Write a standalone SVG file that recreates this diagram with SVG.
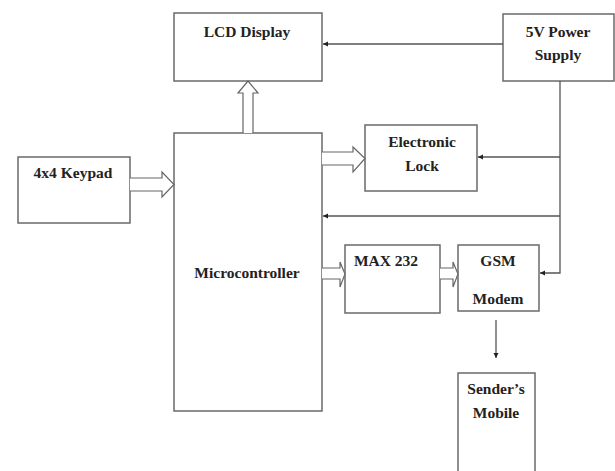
<svg xmlns="http://www.w3.org/2000/svg" width="615" height="471" viewBox="0 0 615 471">
<style>
.box{fill:#fff;stroke:#6a6a6a;stroke-width:1.5}
.t{font-family:"Liberation Serif",serif;font-weight:bold;font-size:15.5px;fill:#222;text-anchor:middle}
.ln{fill:none;stroke:#555;stroke-width:1.3}
.ha{fill:#fff;stroke:#666;stroke-width:1.2}
</style>
<defs>
<marker id="ah" markerWidth="6" markerHeight="6" refX="5" refY="3" orient="auto" markerUnits="userSpaceOnUse">
<path d="M0,0.5 L5,3 L0,5.5 Z" fill="#222"/>
</marker>
</defs>
<rect width="615" height="471" fill="#fff"/>
<g id="lcd"><rect class="box" x="174" y="13" width="148" height="68"/><text class="t" x="247" y="37">LCD Display</text></g>
<g id="power"><rect class="box" x="503" y="14" width="111" height="67"/><text class="t" x="558" y="37">5V Power</text><text class="t" x="558" y="60">Supply</text></g>
<g id="micro"><rect class="box" x="174" y="133" width="148" height="278"/><text class="t" x="247" y="278">Microcontroller</text></g>
<g id="keypad"><rect class="box" x="18" y="157" width="112" height="66"/><text class="t" x="73" y="178">4x4 Keypad</text></g>
<g id="lock"><rect class="box" x="365" y="125" width="112" height="66"/><text class="t" x="422" y="147">Electronic</text><text class="t" x="422" y="171">Lock</text></g>
<g id="max232"><rect class="box" x="345" y="245" width="95" height="68"/><text class="t" x="386" y="266">MAX 232</text></g>
<g id="gsm"><rect class="box" x="458" y="245" width="81" height="66"/><text class="t" x="498" y="266">GSM</text><text class="t" x="498" y="304">Modem</text></g>
<g id="mobile"><rect class="box" x="458" y="373" width="77" height="110"/><text class="t" x="496" y="394">Sender’s</text><text class="t" x="496" y="418">Mobile</text></g>
<g id="connectors">
<path class="ln" d="M503,44 H323" marker-end="url(#ah)"/>
<path class="ln" d="M560,81 V273 H540" marker-end="url(#ah)"/>
<path class="ln" d="M560,157 H478" marker-end="url(#ah)"/>
<path class="ln" d="M560,216 H323" stroke-width="2" marker-end="url(#ah)"/>
<path class="ln" d="M496,320 V358" marker-end="url(#ah)"/>
<path class="ha" d="M243,133 V93 H238 L248,81 L258,93 H253 V133"/>
<path class="ha" d="M322,152 H353 V147 L365,158.5 L353,172 V165 H322"/>
<path class="ha" d="M130,178 H162 V172 L174,184.5 L162,197 V191 H130"/>
<path class="ha" d="M322,268 H340 V262 L345,274 L340,287 V279 H322"/>
<path class="ha" d="M440,268 H453 V262 L458,274 L453,287 V279 H440"/>
</g>
</svg>
